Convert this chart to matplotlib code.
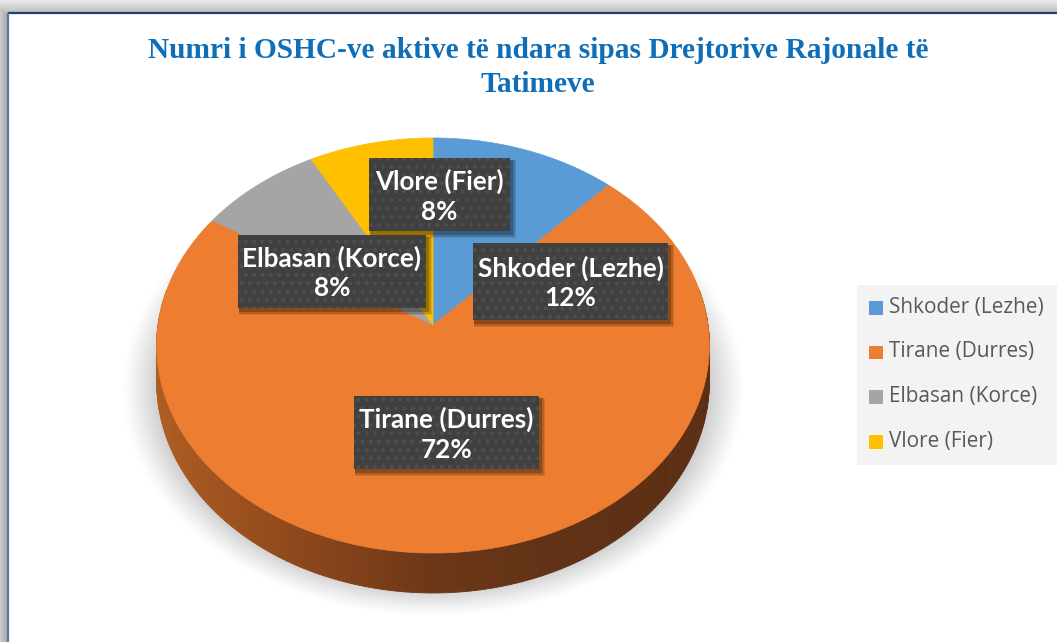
import numpy as np
import matplotlib
matplotlib.use("Agg")
import matplotlib.pyplot as plt
from matplotlib.patches import Polygon, Rectangle

# ---------------- data ----------------
categories = ["Shkoder (Lezhe)", "Tirane (Durres)", "Elbasan (Korce)", "Vlore (Fier)"]
values = [12, 72, 8, 8]
colors = ["#5B9BD5", "#ED7D31", "#A5A5A5", "#FFC000"]
title_lines = ["Numri i OSHC-ve aktive të ndara sipas Drejtorive Rajonale të", "Tatimeve"]

# ---------------- layout (pixels) ----------------
W, H = 1057, 642
cx, cy0 = 433.0, 325.0          # projected pie centre
A, B = 275.0, 205.5             # semi axes of the top face
P = 0.0988                      # perspective strength
D0 = 36.0                       # depth of pie side
# label box geometry: (left, top, right, bottom)
label_boxes = [(473, 243, 668, 320), (354, 396, 539, 469), (238, 235, 426, 308), (369, 158, 510, 231)]
label_fit_w = [176, 165, 169, 122]

plt.rcParams["hatch.linewidth"] = 1.6

fig = plt.figure(figsize=(W / 100, H / 100), dpi=100)
ax = fig.add_axes([0, 0, 1, 1])
ax.set_xlim(0, W)
ax.set_ylim(H, 0)
ax.axis("off")
renderer = fig.canvas.get_renderer()

# ---------------- background + frame ----------------
bg = np.ones((H, W, 3))
for yy in range(12):
    g = 0.92 - 0.16 * yy / 11
    bg[yy, :, :] = g
for xx in range(8):
    g = 0.80 - 0.14 * xx / 7
    bg[12:, xx, :] = np.minimum(bg[12:, xx, :], g)
ax.imshow(bg, extent=(0, W, H, 0), zorder=0, interpolation="bilinear")
ax.plot([7.5, W], [12.5, 12.5], color="#1F3E7C", lw=1.6, zorder=1, solid_capstyle="butt")
ax.plot([7.5, 7.5], [12.5, H], color="#5C77A3", lw=1.6, zorder=1, solid_capstyle="butt")


def proj(theta_deg, r=1.0, z=0.0):
    t = np.radians(theta_deg)
    u = r * np.sin(t)
    v = r * np.cos(t)
    w = 1 + P * v
    return cx + A * u / w, cy0 - B * v / w + z * D0 / w


# ---------------- soft shadow ----------------
yy, xx = np.mgrid[0:H, 0:W]
rr = np.sqrt(((xx - cx) / 312.0) ** 2 + ((yy - 388.0) / 228.0) ** 2)
alpha = 0.50 * np.clip((1.0 - rr) / 0.16, 0, 1) ** 1.2
sh = np.zeros((H, W, 4))
sh[..., :3] = 0.45
sh[..., 3] = alpha
ax.imshow(sh, extent=(0, W, H, 0), zorder=2, interpolation="bilinear")

# ---------------- side of the pie (front, all Tirane) ----------------
side_t = [0.0, 0.25, 0.5, 0.75, 1.0]
side_c = np.array([[0xAE, 0x5C, 0x22], [0x8E, 0x48, 0x1C], [0x6C, 0x37, 0x18], [0x60, 0x31, 0x15], [0x5C, 0x2F, 0x14]]) / 255.0
angs = np.arange(80, 281, 1.0)
for a1, a2 in zip(angs[:-1], angs[1:]):
    p1 = proj(a1); p2 = proj(a2)
    q2 = proj(a2, z=1); q1 = proj(a1, z=1)
    xm = (p1[0] + p2[0]) / 2
    t = np.clip((xm - (cx - A)) / (2 * A), 0, 1)
    col = [np.interp(t, side_t, side_c[:, k]) for k in range(3)]
    ax.add_patch(Polygon([p1, p2, q2, q1], closed=True, facecolor=col, edgecolor=col, lw=0.6, zorder=3))

# ---------------- top face slices ----------------
total = float(sum(values))
start = 0.0
for val, col in zip(values, colors):
    span = 360.0 * val / total
    th = np.linspace(start, start + span, max(int(span * 2), 4))
    pts = [proj(0, r=0)] + [proj(t_) for t_ in th]
    ax.add_patch(Polygon(pts, closed=True, facecolor=col, edgecolor=col, lw=0.5, zorder=4))
    start += span


def fit_size(text, target_w, **kw):
    t = ax.text(0, 0, text, fontsize=10, **kw)
    w = t.get_window_extent(renderer).width
    t.remove()
    return 10 * target_w / w


# ---------------- data labels ----------------
lab_font = dict(family="Lato", weight="bold", color="white")
for (l, tp, r, bt), cat, val, fw in zip(label_boxes, categories, values, label_fit_w):
    # drop shadow
    for k, al in zip([5, 3.5, 2], [0.10, 0.15, 0.22]):
        ax.add_patch(Rectangle((l + 1, tp + 2), r - l + k, bt - tp + k, facecolor="black", alpha=al, lw=0, zorder=5))
    ax.add_patch(Rectangle((l, tp), r - l, bt - tp, facecolor="#404040", edgecolor="#4E4E4E", lw=0,
                           hatch="..", zorder=6))
    fs = fit_size(cat, fw, **lab_font) * 1.06
    mx = (l + r) / 2
    my = (tp + bt) / 2
    ax.text(mx, my - 13, cat, ha="center", va="center", fontsize=fs, zorder=7, **lab_font)
    ax.text(mx, my + 17, f"{val / total * 100:.0f}%", ha="center", va="center", fontsize=fs, zorder=7, **lab_font)

# ---------------- title ----------------
tfont = dict(family="Liberation Serif", weight="bold", color="#0E6EB8")
tfs = fit_size(title_lines[0], 782, **tfont)
ax.text(538, 50, title_lines[0], ha="center", va="center", fontsize=tfs, zorder=7, **tfont)
ax.text(538, 84, title_lines[1], ha="center", va="center", fontsize=tfs, zorder=7, **tfont)

# ---------------- legend ----------------
ax.add_patch(Rectangle((857, 285), W - 857, 180, facecolor="#F3F3F3", lw=0, zorder=5))
leg_y = [307.5, 352, 396.7, 441.7]
lfont = dict(family="Open Sans", color="#595959")
lfs = fit_size(categories[0], 154, **lfont)
for cat, col, ly in zip(categories, colors, leg_y):
    ax.add_patch(Rectangle((869, ly - 6.5), 13.5, 13.5, facecolor=col, lw=0, zorder=6))
    ax.text(889, ly, cat, ha="left", va="center", fontsize=lfs, zorder=7, **lfont)

fig.savefig("out.png", dpi=100)
